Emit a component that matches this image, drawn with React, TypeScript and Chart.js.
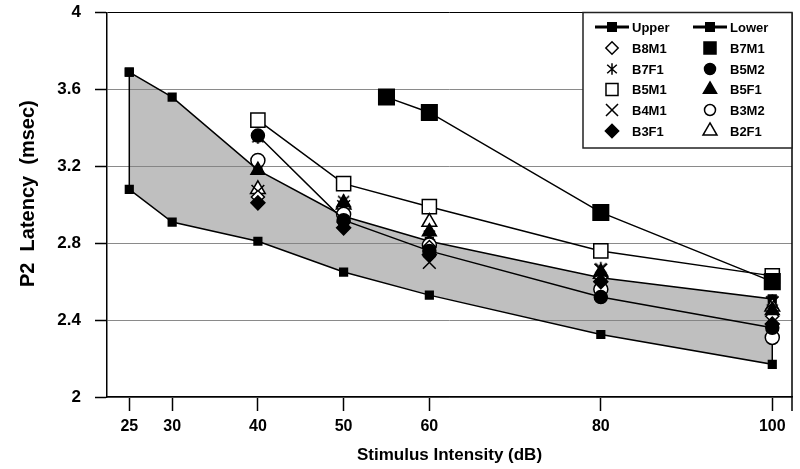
import React, { useEffect, useRef } from 'react';
import { Chart, registerables } from 'chart.js';

Chart.register(...registerables);

// ---- Data ----
const xTickValues = [25, 30, 40, 50, 60, 80, 100];
const yTickValues = [2, 2.4, 2.8, 3.2, 3.6, 4];
const yTickLabels = ['2', '2.4', '2.8', '3.2', '3.6', '4'];

const boundaryIntensities = [25, 30, 40, 50, 60, 80, 100];
const upperValues = [3.69, 3.56, 3.18, 2.94, 2.81, 2.62, 2.51];
const lowerValues = [3.08, 2.91, 2.81, 2.65, 2.53, 2.325, 2.17];

const subjectIntensities = [40, 50, 60, 80, 100];
const b8m1Values = [3.04, 2.91, 2.78, 2.62, 2.42];
const b7f1Values = [3.35, 3.02, 2.84, 2.67, 2.5];
const b5m1Values = [3.44, 3.11, 2.99, 2.76, 2.63];
const b4m1Values = [3.07, 2.99, 2.7, 2.66, 2.49];
const b3f1Values = [3.01, 2.88, 2.74, 2.6, 2.38];
const b5m2Values = [3.36, 2.92, 2.76, 2.52, 2.36];
const b5f1Values = [3.18, 3.01, 2.86, 2.65, 2.45];
const b3m2Values = [3.23, 2.95, 2.79, 2.56, 2.31];
const b2f1Values = [3.08, 3.0, 2.91, 2.64, 2.47];

const b7m1Intensities = [55, 60, 80, 100];
const b7m1Values = [3.56, 3.48, 2.96, 2.6];

const legendLeft = ['Upper', 'B8M1', 'B7F1', 'B5M1', 'B4M1', 'B3F1'];
const legendRight = ['Lower', 'B7M1', 'B5M2', 'B5F1', 'B3M2', 'B2F1'];

// ---- Styles ----
type Shape = 'rect' | 'rectRot' | 'circle' | 'triangle' | 'crossRot' | 'asterisk' | 'band';
const styles: Record<string, { shape: Shape; filled: boolean; r: number; line: boolean }> = {
  Upper: { shape: 'band', filled: true, r: 6.5, line: true },
  Lower: { shape: 'band', filled: true, r: 6.5, line: true },
  B8M1: { shape: 'rectRot', filled: false, r: 6.5, line: false },
  B7F1: { shape: 'asterisk', filled: false, r: 7, line: false },
  B5M1: { shape: 'rect', filled: false, r: 10, line: true },
  B4M1: { shape: 'crossRot', filled: false, r: 9, line: false },
  B3F1: { shape: 'rectRot', filled: true, r: 7, line: false },
  B7M1: { shape: 'rect', filled: true, r: 11, line: true },
  B5M2: { shape: 'circle', filled: true, r: 6.5, line: true },
  B5F1: { shape: 'triangle', filled: true, r: 8, line: false },
  B3M2: { shape: 'circle', filled: false, r: 7, line: false },
  B2F1: { shape: 'triangle', filled: false, r: 8.5, line: false },
};

const FONT = '"Liberation Sans", Arial, Helvetica, sans-serif';

function pts(xs: number[], ys: number[]) {
  return xs.map((x, i) => ({ x, y: ys[i] }));
}

function makeAsterisk(size: number) {
  const c = document.createElement('canvas');
  c.width = size;
  c.height = size;
  const g = c.getContext('2d')!;
  g.strokeStyle = '#000';
  g.lineWidth = 1.5;
  const m = size / 2;
  const h = size / 2 - 1;
  g.beginPath();
  g.moveTo(m, m - h);
  g.lineTo(m, m + h);
  g.moveTo(m - h * 0.85, m - h * 0.75);
  g.lineTo(m + h * 0.85, m + h * 0.75);
  g.moveTo(m - h * 0.85, m + h * 0.75);
  g.lineTo(m + h * 0.85, m - h * 0.75);
  g.stroke();
  return c;
}

function drawSymbol(ctx: CanvasRenderingContext2D, shape: Shape, filled: boolean, x: number, y: number, r: number) {
  ctx.save();
  ctx.strokeStyle = '#000';
  ctx.fillStyle = filled ? '#000' : '#fff';
  ctx.lineWidth = 1.5;
  ctx.beginPath();
  if (shape === 'rect') {
    const s = r * Math.SQRT1_2;
    ctx.rect(x - s, y - s, 2 * s, 2 * s);
    ctx.fill();
    ctx.stroke();
  } else if (shape === 'rectRot') {
    ctx.moveTo(x - r, y);
    ctx.lineTo(x, y - r);
    ctx.lineTo(x + r, y);
    ctx.lineTo(x, y + r);
    ctx.closePath();
    ctx.fill();
    ctx.stroke();
  } else if (shape === 'circle') {
    ctx.arc(x, y, r, 0, Math.PI * 2);
    ctx.fill();
    ctx.stroke();
  } else if (shape === 'triangle') {
    let a = 0;
    ctx.moveTo(x + Math.sin(a) * r, y - Math.cos(a) * r);
    a += (2 * Math.PI) / 3;
    ctx.lineTo(x + Math.sin(a) * r, y - Math.cos(a) * r);
    a += (2 * Math.PI) / 3;
    ctx.lineTo(x + Math.sin(a) * r, y - Math.cos(a) * r);
    ctx.closePath();
    ctx.fill();
    ctx.stroke();
  } else if (shape === 'crossRot') {
    const d = r * Math.SQRT1_2;
    ctx.moveTo(x - d, y - d);
    ctx.lineTo(x + d, y + d);
    ctx.moveTo(x - d, y + d);
    ctx.lineTo(x + d, y - d);
    ctx.stroke();
  } else if (shape === 'asterisk') {
    const h = r - 1;
    ctx.moveTo(x, y - h);
    ctx.lineTo(x, y + h);
    ctx.moveTo(x - h * 0.85, y - h * 0.75);
    ctx.lineTo(x + h * 0.85, y + h * 0.75);
    ctx.moveTo(x - h * 0.85, y + h * 0.75);
    ctx.lineTo(x + h * 0.85, y - h * 0.75);
    ctx.stroke();
  } else if (shape === 'band') {
    ctx.lineWidth = 3;
    ctx.moveTo(x - 17, y);
    ctx.lineTo(x + 17, y);
    ctx.stroke();
    ctx.fillStyle = '#000';
    ctx.fillRect(x - 5, y - 5, 10, 10);
  }
  ctx.restore();
}

const legendPlugin = {
  id: 'customLegend',
  afterDraw(chart: any) {
    const ctx: CanvasRenderingContext2D = chart.ctx;
    const a = chart.chartArea;
    ctx.save();
    // right frame
    ctx.strokeStyle = '#000';
    ctx.lineWidth = 1.5;
    ctx.beginPath();
    ctx.moveTo(a.right, a.top);
    ctx.lineTo(a.right, a.bottom + 14);
    ctx.stroke();
    // legend box
    const bx = 583;
    const by = a.top;
    const bw = a.right - bx;
    const bh = 148 - by;
    ctx.fillStyle = '#fff';
    ctx.fillRect(bx, by, bw, bh);
    ctx.strokeStyle = '#222';
    ctx.lineWidth = 1.5;
    ctx.strokeRect(bx, by, bw, bh);
    const rows = [27, 48, 69, 89.5, 110, 131];
    ctx.font = `bold 13px ${FONT}`;
    ctx.textBaseline = 'middle';
    ctx.textAlign = 'left';
    const cols = [
      { items: legendLeft, sx: 612, tx: 632 },
      { items: legendRight, sx: 710, tx: 730 },
    ];
    cols.forEach((col) => {
      col.items.forEach((name, i) => {
        const st = styles[name];
        const rr = st.shape === 'rect' ? 8.5 : st.shape === 'circle' ? 5.5 : st.shape === 'crossRot' ? 8.5 : st.r * 0.95;
        drawSymbol(ctx, st.shape, st.filled, col.sx, rows[i], rr);
        ctx.fillStyle = '#000';
        ctx.fillText(name, col.tx, rows[i] + 1);
      });
    });
    ctx.restore();
  },
};

export default function App() {
  const ref = useRef<HTMLCanvasElement | null>(null);
  useEffect(() => {
    document.body.style.margin = '0';
    const canvas = ref.current!;
    const asterisk = makeAsterisk(15);

    const band = [
      ...pts(boundaryIntensities, upperValues),
      ...pts(boundaryIntensities, lowerValues).reverse(),
      { x: boundaryIntensities[0], y: upperValues[0] },
    ];

    const subject = (name: string, xs: number[], ys: number[], order: number) => {
      const st = styles[name];
      return {
        label: name,
        data: pts(xs, ys),
        showLine: st.line,
        borderColor: '#000',
        borderWidth: 1.5,
        backgroundColor: st.filled ? '#000' : '#fff',
        pointStyle: st.shape === 'asterisk' ? asterisk : st.shape,
        pointRadius: st.r,
        pointBorderWidth: 1.5,
        pointBorderColor: '#000',
        pointBackgroundColor: st.filled ? '#000' : '#fff',
        fill: false,
        tension: 0,
        order,
      };
    };

    const chart = new Chart(canvas, {
      type: 'line',
      data: {
        datasets: [
          subject('B5M2', subjectIntensities, b5m2Values, 0),
          subject('B3F1', subjectIntensities, b3f1Values, 1),
          subject('B5F1', subjectIntensities, b5f1Values, 1),
          subject('B8M1', subjectIntensities, b8m1Values, 2),
          subject('B3M2', subjectIntensities, b3m2Values, 2),
          subject('B4M1', subjectIntensities, b4m1Values, 3),
          subject('B2F1', subjectIntensities, b2f1Values, 3),
          subject('B7F1', subjectIntensities, b7f1Values, 3),
          subject('B7M1', b7m1Intensities, b7m1Values, 4),
          subject('B5M1', subjectIntensities, b5m1Values, 5),
          {
            label: 'Band',
            data: band,
            showLine: true,
            borderColor: '#000',
            borderWidth: 1.5,
            backgroundColor: 'rgba(128,128,128,0.5)',
            fill: 'shape',
            pointStyle: 'rect',
            pointRadius: 6.5,
            pointBorderWidth: 0,
            pointBackgroundColor: '#000',
            pointBorderColor: '#000',
            tension: 0,
            order: 20,
          } as any,
        ],
      },
      options: {
        responsive: false,
        animation: false,
        events: [],
        layout: { autoPadding: false, padding: { top: 12.5, right: 8, left: 0, bottom: 0 } },
        plugins: { legend: { display: false }, tooltip: { enabled: false } },
        scales: {
          x: {
            type: 'linear',
            min: 22.4,
            max: 102.3,
            afterBuildTicks: (scale: any) => {
              scale.ticks = xTickValues.map((v) => ({ value: v }));
            },
            afterFit: (scale: any) => {
              scale.height = 72;
              scale.paddingLeft = 0;
              scale.paddingRight = 0;
            },
            ticks: {
              color: '#000',
              font: { family: FONT, size: 16, weight: 'bold' },
              padding: 6,
              maxRotation: 0,
              autoSkip: false,
              callback: (v: any) => String(v),
            },
            grid: {
              drawOnChartArea: false,
              drawTicks: true,
              tickLength: 14,
              tickColor: '#000',
              tickWidth: 1.5,
            },
            border: { color: '#000', width: 1.5 },
            title: {
              display: true,
              text: 'Stimulus Intensity (dB)',
              color: '#000',
              font: { family: FONT, size: 17, weight: 'bold' },
              padding: { top: 0, bottom: 3 },
            },
          },
          y: {
            type: 'linear',
            min: 2,
            max: 4,
            afterBuildTicks: (scale: any) => {
              scale.ticks = yTickValues.map((v) => ({ value: v }));
            },
            afterFit: (scale: any) => {
              scale.width = 107;
              scale.paddingTop = 0;
              scale.paddingBottom = 0;
            },
            ticks: {
              color: '#000',
              font: { family: FONT, size: 17, weight: 'bold' },
              padding: 14,
              autoSkip: false,
              callback: (v: any) => {
                const i = yTickValues.indexOf(Number(v));
                return i >= 0 ? yTickLabels[i] : String(v);
              },
            },
            grid: {
              color: (c: any) => (c.tick && c.tick.value === 4 ? '#000' : '#8a8a8a'),
              lineWidth: 1,
              tickLength: 12,
              tickColor: '#000',
              tickWidth: 1.5,
            },
            border: { color: '#000', width: 1.5 },
            title: {
              display: true,
              text: '    P2  Latency  (msec)',
              color: '#000',
              font: { family: FONT, size: 20, weight: 'bold' },
              padding: { top: 16, bottom: 0 },
            },
          },
        },
      } as any,
      plugins: [legendPlugin],
    });
    return () => chart.destroy();
  }, []);

  return (
    <div style={{ width: 800, height: 469, position: 'relative' }}>
      <canvas ref={ref} width={800} height={469} style={{ display: 'block' }} />
    </div>
  );
}
